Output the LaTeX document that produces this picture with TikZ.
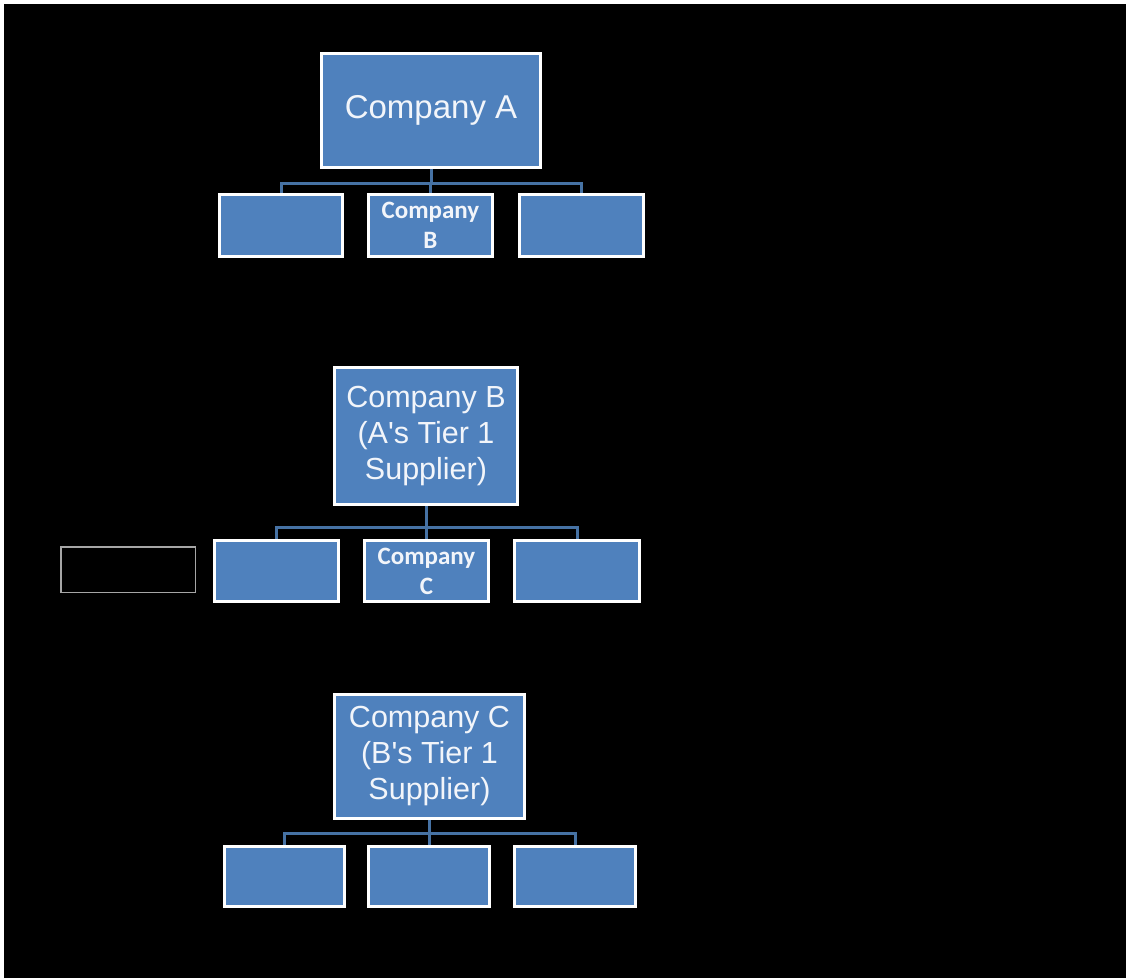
\documentclass[tikz,border=0pt]{standalone}
\usepackage{fontspec}
\setmainfont{Liberation Sans}[Ligatures=TeXOff]
\newfontfamily\smallfont{Carlito}
\definecolor{boxblue}{HTML}{4F81BD}
\definecolor{linkblue}{HTML}{4672A4}
\definecolor{txt}{HTML}{F2F5FA}
\tikzset{
  orgbox/.style={draw=white, fill=boxblue, line width=3pt, inner sep=0pt, text=txt, align=center},
  bigtxt/.style={font=\fontsize{33}{38}\selectfont},
  midtxt/.style={font=\fontsize{30.5}{36}\selectfont},
  smalltxt/.style={font=\smallfont\bfseries\fontsize{25}{30}\selectfont},
  link/.style={draw=linkblue, line width=3pt},
  blank/.style={draw=gray!70, line width=1.5pt, fill=black, inner sep=0pt}
}
\begin{document}
\begin{tikzpicture}[x=1pt,y=-1pt]
\useasboundingbox (0,0) rectangle (1126,977);
\fill[white] (-5,-5) rectangle (1135,985);
\fill[black] (4,4) rectangle (1135,985);

% ---- Tree 1 ----
\coordinate (busA) at (431,183);
\node[orgbox,bigtxt,minimum width=219pt,minimum height=114pt] (A) at (431,110.5) {\raisebox{-4pt}{Company A}};
\node[orgbox,minimum width=123pt,minimum height=62pt] (a1) at (281,225.5) {};
\node[orgbox,smalltxt,minimum width=124pt,minimum height=62pt] (a2) at (430.5,225.5) {Company\\B};
\node[orgbox,minimum width=124pt,minimum height=62pt] (a3) at (581.5,225.5) {};
\draw[link] (A.south) -- (busA);
\draw[link] (busA) -| (a1.north);
\draw[link] (busA) -| (a2.north);
\draw[link] (busA) -| (a3.north);

% ---- Tree 2 ----
\coordinate (busB) at (426,527);
\node[orgbox,midtxt,minimum width=183pt,minimum height=137pt] (B) at (426,436) {\raisebox{-4pt}{\parbox{180pt}{\centering Company B\\(A's Tier 1\\Supplier)}}};
\node[orgbox,minimum width=124pt,minimum height=61pt] (b1) at (276.5,571) {};
\node[orgbox,smalltxt,minimum width=124pt,minimum height=61pt] (b2) at (426.5,571) {Company\\C};
\node[orgbox,minimum width=125pt,minimum height=61pt] (b3) at (577,571) {};
\node[blank,minimum width=134.5pt,minimum height=45.5pt] (b0) at (128,569.5) {};
\draw[link] (B.south) -- (busB);
\draw[link] (busB) -| (b1.north);
\draw[link] (busB) -| (b2.north);
\draw[link] (busB) -| (b3.north);

% ---- Tree 3 ----
\coordinate (busC) at (429.5,833);
\node[orgbox,midtxt,minimum width=190pt,minimum height=124pt] (C) at (429.5,756.5) {\raisebox{-3pt}{\parbox{187pt}{\centering Company C\\(B's Tier 1\\Supplier)}}};
\node[orgbox,minimum width=120pt,minimum height=60pt] (c1) at (284.5,876.5) {};
\node[orgbox,minimum width=121pt,minimum height=60pt] (c2) at (429,876.5) {};
\node[orgbox,minimum width=121pt,minimum height=60pt] (c3) at (575,876.5) {};
\draw[link] (C.south) -- (busC);
\draw[link] (busC) -| (c1.north);
\draw[link] (busC) -| (c2.north);
\draw[link] (busC) -| (c3.north);
\end{tikzpicture}
\end{document}
